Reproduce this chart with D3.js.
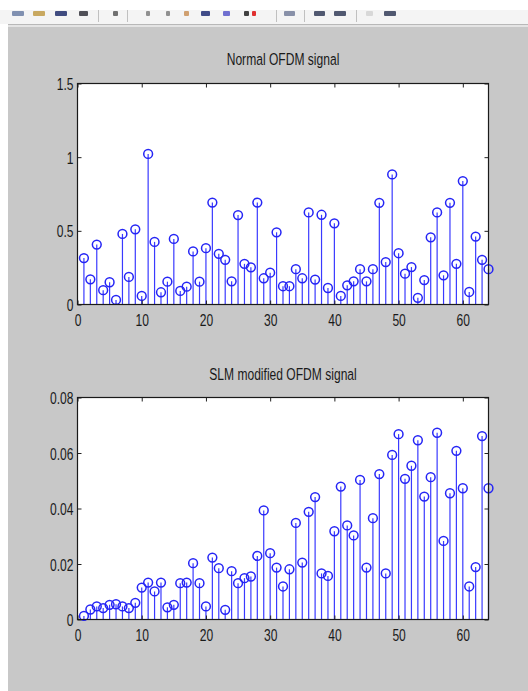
<!DOCTYPE html>
<html>
<head>
<meta charset="utf-8">
<script src="https://cdn.jsdelivr.net/npm/d3@7"></script>
<style>
  html, body { margin: 0; padding: 0; background: #ffffff; }
  svg { display: block; }
  .tick text, .title { font-family: "Liberation Sans", Arial, sans-serif; fill: #1a1a1a; }
</style>
</head>
<body>
<div id="fig"></div>
<script>
// ---- data ----
const xTicks = [0, 10, 20, 30, 40, 50, 60];

const normalTitle = 'Normal OFDM signal';
const normalYTicks = [0, 0.5, 1, 1.5];
const normalYLabels = ['0', '0.5', '1', '1.5'];
const normalValues = [
  0.315, 0.171, 0.407, 0.097, 0.151, 0.031, 0.479, 0.187, 0.510, 0.058,
  1.022, 0.425, 0.083, 0.155, 0.445, 0.092, 0.121, 0.360, 0.155, 0.382,
  0.692, 0.344, 0.303, 0.157, 0.607, 0.276, 0.252, 0.692, 0.178, 0.216,
  0.490, 0.124, 0.124, 0.240, 0.178, 0.625, 0.169, 0.609, 0.112, 0.551,
  0.058, 0.130, 0.157, 0.240, 0.157, 0.240, 0.690, 0.288, 0.883, 0.348,
  0.209, 0.254, 0.045, 0.166, 0.456, 0.625, 0.198, 0.690, 0.276, 0.838,
  0.085, 0.461, 0.303, 0.240,
];

const slmTitle = 'SLM modified OFDM signal';
const slmYTicks = [0, 0.02, 0.04, 0.06, 0.08];
const slmYLabels = ['0', '0.02', '0.04', '0.06', '0.08'];
const slmValues = [
  0.0013, 0.0036, 0.0047, 0.0041, 0.0053, 0.0055, 0.0047, 0.0041, 0.0060, 0.0115,
  0.0133, 0.0101, 0.0133, 0.0044, 0.0053, 0.0131, 0.0133, 0.0203, 0.0131, 0.0047,
  0.0223, 0.0185, 0.0035, 0.0174, 0.0131, 0.0149, 0.0155, 0.0229, 0.0393, 0.0239,
  0.0187, 0.0119, 0.0181, 0.0348, 0.0205, 0.0388, 0.0441, 0.0166, 0.0157, 0.0318,
  0.0479, 0.0339, 0.0303, 0.0503, 0.0187, 0.0365, 0.0524, 0.0166, 0.0593, 0.0668,
  0.0507, 0.0554, 0.0646, 0.0443, 0.0513, 0.0673, 0.0283, 0.0455, 0.0608, 0.0473,
  0.0119, 0.0189, 0.0661, 0.0473,
];

// toolbar decoration (half-hidden icons at the top of the screenshot)
const toolbarIcons = [
  { x: 12, w: 12, c: '#8090b0' }, { x: 33, w: 12, c: '#c8a860' }, { x: 55, w: 12, c: '#404c80' },
  { x: 79, w: 9, c: '#505058' }, { x: 113, w: 5, c: '#707070' }, { x: 146, w: 4, c: '#909090' },
  { x: 166, w: 4, c: '#909090' }, { x: 184, w: 5, c: '#d0a070' }, { x: 201, w: 9, c: '#404c88' },
  { x: 223, w: 7, c: '#7070d0' }, { x: 244, w: 5, c: '#404040' }, { x: 252, w: 4, c: '#e03030' },
  { x: 284, w: 11, c: '#8890a8' }, { x: 314, w: 11, c: '#505870' }, { x: 334, w: 12, c: '#505870' },
  { x: 366, w: 7, c: '#d8d8d8' }, { x: 384, w: 12, c: '#505870' },
];
const toolbarSeparators = [98, 127, 276, 304, 356];

const W = 528, H = 691;
const svg = d3.select('#fig').append('svg').attr('width', W).attr('height', H);

// figure window
svg.append('rect').attr('width', W).attr('height', H).attr('fill', '#ffffff');
svg.append('rect').attr('x', 0).attr('y', 0).attr('width', W).attr('height', 24).attr('fill', '#f4f4f4');
svg.append('rect').attr('x', 0).attr('y', 0).attr('width', W).attr('height', 10).attr('fill', '#ffffff');
svg.append('line').attr('x1', 8).attr('x2', W).attr('y1', 24.5).attr('y2', 24.5).attr('stroke', '#b8b8b8');
svg.append('rect').attr('x', 8).attr('y', 25).attr('width', W - 8).attr('height', 2).attr('fill', '#e4e4e4');
svg.append('rect').attr('x', 8).attr('y', 27).attr('width', W - 8).attr('height', H - 27).attr('fill', '#c8c8c8');

svg.append('g').selectAll('rect').data(toolbarIcons).join('rect')
  .attr('x', (d) => d.x).attr('y', 11).attr('width', (d) => d.w).attr('height', 5)
  .attr('rx', 1).attr('fill', (d) => d.c);
svg.append('g').selectAll('line').data(toolbarSeparators).join('line')
  .attr('x1', (d) => d + 0.5).attr('x2', (d) => d + 0.5).attr('y1', 10).attr('y2', 22)
  .attr('stroke', '#c0c0c0');

class StemChart {
  constructor(_config, _data) {
    this.config = _config;
    this.data = _data;
    this.initVis();
  }

  initVis() {
    const vis = this;
    const c = vis.config;

    vis.xScale = d3.scaleLinear().domain([0, 64]).range([c.left, c.right]);
    vis.yScale = d3.scaleLinear().domain(c.yDomain).range([c.bottom, c.top]);

    vis.g = svg.append('g');

    // white axes area
    vis.g.append('rect')
      .attr('x', c.left).attr('y', c.top)
      .attr('width', c.right - c.left).attr('height', c.bottom - c.top)
      .attr('fill', '#ffffff');

    vis.renderVis();
  }

  renderVis() {
    const vis = this;
    const c = vis.config;
    const pts = vis.data.map((v, i) => [i + 1, v]);

    // stems
    vis.g.append('g').selectAll('line').data(pts).join('line')
      .attr('x1', (d) => vis.xScale(d[0])).attr('x2', (d) => vis.xScale(d[0]))
      .attr('y1', vis.yScale(0)).attr('y2', (d) => vis.yScale(d[1]))
      .attr('stroke', '#3a3aff').attr('stroke-width', 1.2);

    // markers
    vis.g.append('g').selectAll('circle').data(pts).join('circle')
      .attr('cx', (d) => vis.xScale(d[0])).attr('cy', (d) => vis.yScale(d[1]))
      .attr('r', 4.4).attr('fill', 'none')
      .attr('stroke', '#2525f5').attr('stroke-width', 1.5);

    const sx = 0.71;
    const fs = 17;
    const inner = 4;

    // bottom axis with labels
    const xAxisB = d3.axisBottom(vis.xScale).tickValues(xTicks).tickFormat(d3.format('d'))
      .tickSizeInner(-inner).tickSizeOuter(0).tickPadding(9);
    vis.g.append('g').attr('transform', `translate(0,${c.bottom})`).call(xAxisB)
      .call((g) => g.select('.domain').remove())
      .call((g) => g.selectAll('.tick line').attr('stroke', '#222'))
      .selectAll('.tick text')
      .attr('font-size', fs)
      .attr('dy', '0.71em')
      .attr('transform', `scale(${sx},1)`);

    // top axis ticks only
    const xAxisT = d3.axisTop(vis.xScale).tickValues(xTicks).tickFormat('')
      .tickSizeInner(-inner).tickSizeOuter(0);
    vis.g.append('g').attr('transform', `translate(0,${c.top})`).call(xAxisT)
      .call((g) => g.select('.domain').remove())
      .selectAll('.tick line').attr('stroke', '#222');

    // left axis with labels
    const yAxisL = d3.axisLeft(vis.yScale).tickValues(c.yTicks)
      .tickFormat((d, i) => c.yLabels[i])
      .tickSizeInner(-inner).tickSizeOuter(0).tickPadding(0);
    vis.g.append('g').attr('transform', `translate(${c.left},0)`).call(yAxisL)
      .call((g) => g.select('.domain').remove())
      .call((g) => g.selectAll('.tick line').attr('stroke', '#222'))
      .selectAll('.tick text')
      .attr('font-size', fs)
      .attr('x', -4 / sx)
      .attr('dy', '0.36em')
      .attr('transform', `scale(${sx},1)`);

    // right axis ticks only
    const yAxisR = d3.axisRight(vis.yScale).tickValues(c.yTicks).tickFormat('')
      .tickSizeInner(-inner).tickSizeOuter(0);
    vis.g.append('g').attr('transform', `translate(${c.right},0)`).call(yAxisR)
      .call((g) => g.select('.domain').remove())
      .selectAll('.tick line').attr('stroke', '#222');

    // box
    vis.g.append('rect')
      .attr('x', c.left).attr('y', c.top)
      .attr('width', c.right - c.left).attr('height', c.bottom - c.top)
      .attr('fill', 'none').attr('stroke', '#1a1a1a').attr('stroke-width', 1.2);

    // title
    const cx = (c.left + c.right) / 2;
    vis.g.append('text').attr('class', 'title')
      .attr('transform', `translate(${cx},${c.titleY}) scale(${sx},1)`)
      .attr('text-anchor', 'middle')
      .attr('font-size', fs)
      .text(c.title);
  }
}

new StemChart({
  left: 77.5, right: 488.5, top: 83.5, bottom: 304.5,
  yDomain: [0, 1.5], yTicks: normalYTicks, yLabels: normalYLabels,
  title: normalTitle, titleY: 64.5,
}, normalValues);

new StemChart({
  left: 77.5, right: 488.5, top: 397.5, bottom: 619.5,
  yDomain: [0, 0.08], yTicks: slmYTicks, yLabels: slmYLabels,
  title: slmTitle, titleY: 380,
}, slmValues);
</script>
</body>
</html>
